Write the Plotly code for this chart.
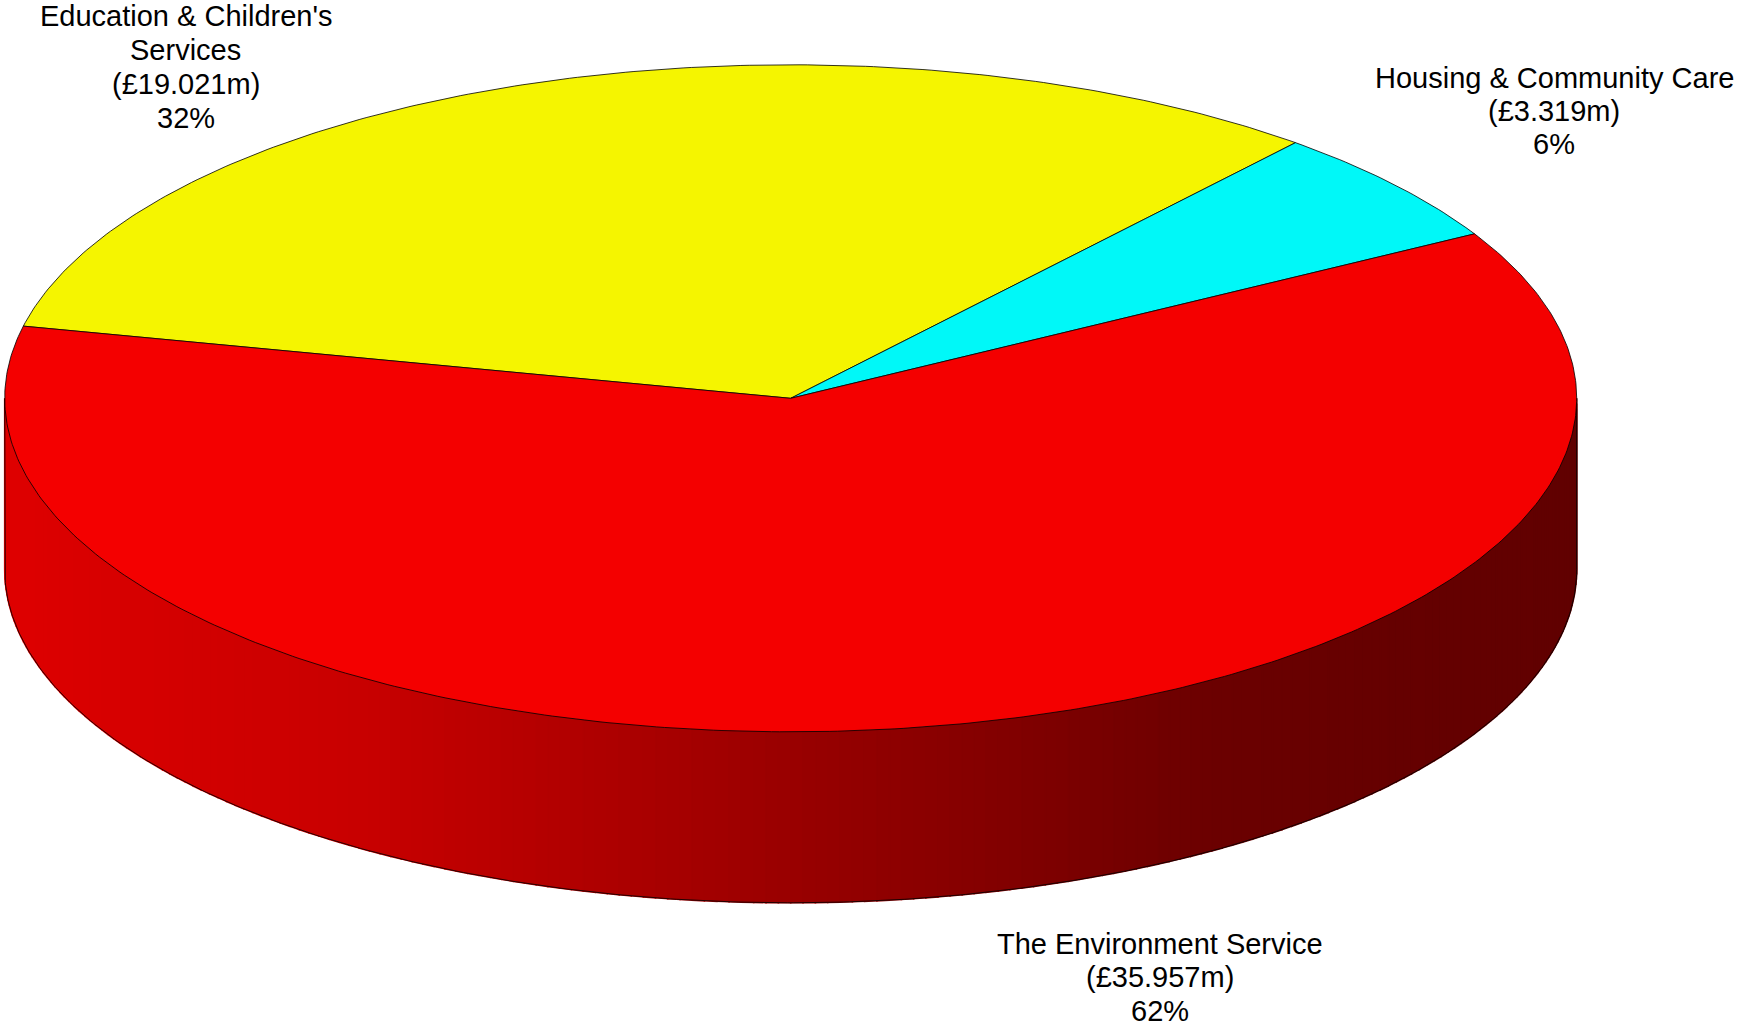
import numpy as np
import plotly.graph_objects as go
import textwrap

# ---- data ----
categories = ["Education & Children's Services", "Housing & Community Care", "The Environment Service"]
values_m = [19.021, 3.319, 35.957]
slice_colors = ["#F5F500", "#00F8F8", "#F40000"]

# ---- style / geometry ----
W, H = 1737, 1027
cx, cy = 790.7, 398.3
rx, ry = 786.0, 333.5
depth = 171.0
start_deg = 167.5  # first slice starts here, runs clockwise

# label: (centre x, first line centre y, line pitch)
label_pos = [(185.5, 16, 34.0), (1554, 77.5, 33.3), (1160, 944, 33.3)]
label_font = 29

# side shading (brightness relative to top face), by normalised x position
shade_u = [-1.0, -0.9, -0.54, 0.0, 0.54, 0.92, 1.0]
shade_v = [221, 215, 198, 152, 106, 97, 96]

vals = np.array(values_m, dtype=float)
total = vals.sum()
frac = vals / total

# largest remainder percentages
raw = frac * 100
fl = np.floor(raw).astype(int)
rem = raw - fl
for i in np.argsort(-rem)[: 100 - fl.sum()]:
    fl[i] += 1
pcts = fl

def ell(t, dy=0.0):
    return cx + rx * np.cos(t), cy - ry * np.sin(t) + dy

def hex2rgb(h):
    h = h.lstrip("#")
    return [int(h[i:i + 2], 16) for i in (0, 2, 4)]

bounds = []
a = np.deg2rad(start_deg)
for f in frac:
    b = a - f * 2 * np.pi
    bounds.append((a, b))
    a = b

def slice_at(t):
    s0 = np.deg2rad(start_deg)
    d = (s0 - t) % (2 * np.pi)
    acc = 0.0
    for i, f in enumerate(frac):
        acc += f * 2 * np.pi
        if d < acc:
            return i
    return len(frac) - 1

fig = go.Figure()

# ---- side (front half: angles pi..2pi) ----
N = 200
ts = np.linspace(np.pi, 2 * np.pi, N + 1)
for i in range(N):
    t0, t1 = ts[i], ts[i + 1]
    tm = 0.5 * (t0 + t1)
    k = slice_at(tm)
    tt = np.linspace(t0, t1, 4)
    xt, yt = ell(tt)
    xb, yb = ell(tt[::-1], depth)
    xm, _ = ell(tm)
    u = (xm - cx) / rx
    fac = np.interp(u, shade_u, shade_v) / 242.0
    rgb = [min(255, int(round(c * fac))) for c in hex2rgb(slice_colors[k])]
    col = "rgb(%d,%d,%d)" % tuple(rgb)
    fig.add_trace(go.Scatter(
        x=np.concatenate([xt, xb, xt[:1]]), y=np.concatenate([yt, yb, yt[:1]]),
        mode="lines", fill="toself", fillcolor=col,
        line=dict(color=col, width=1.6), hoverinfo="skip", showlegend=False))

# side outline
tb = np.linspace(np.pi, 2 * np.pi, 400)
bx, by = ell(tb, depth)
ox = np.concatenate([[cx - rx], bx, [cx + rx]])
oy = np.concatenate([[cy], by, [cy]])
fig.add_trace(go.Scatter(x=ox, y=oy, mode="lines",
                         line=dict(color="black", width=0.8),
                         hoverinfo="skip", showlegend=False))

# ---- top face slices ----
for i, (a0, a1) in enumerate(bounds):
    n = max(8, int(abs(a1 - a0) / (2 * np.pi) * 600))
    tt = np.linspace(a0, a1, n)
    ex, ey = ell(tt)
    xs = np.concatenate([[cx], ex, [cx]])
    ys = np.concatenate([[cy], ey, [cy]])
    fig.add_trace(go.Scatter(
        x=xs, y=ys, mode="lines", fill="toself", fillcolor=slice_colors[i],
        line=dict(color="black", width=0.8),
        name=categories[i], hoverinfo="name", showlegend=False))

# ---- labels (one annotation per line for tight line spacing) ----
for i, name in enumerate(categories):
    lines = textwrap.wrap(name, width=24) + ["(£%.3fm)" % values_m[i], "%d%%" % pcts[i]]
    lx, ly, pitch = label_pos[i]
    for j, line in enumerate(lines):
        fig.add_annotation(x=lx, y=ly + j * pitch, xref="x", yref="y",
                           text=line, showarrow=False, xanchor="center", yanchor="middle",
                           align="center",
                           font=dict(family="Liberation Sans, Arial, sans-serif",
                                     size=label_font, color="black"))

fig.update_layout(
    width=W, height=H, margin=dict(l=0, r=0, t=0, b=0),
    paper_bgcolor="white", plot_bgcolor="white",
    xaxis=dict(range=[0, W], visible=False, fixedrange=True),
    yaxis=dict(range=[H, 0], visible=False, fixedrange=True),
)

fig.write_html("out.html", config={"displayModeBar": False},
               post_script="document.body.style.margin='0';document.body.style.overflow='hidden';")
